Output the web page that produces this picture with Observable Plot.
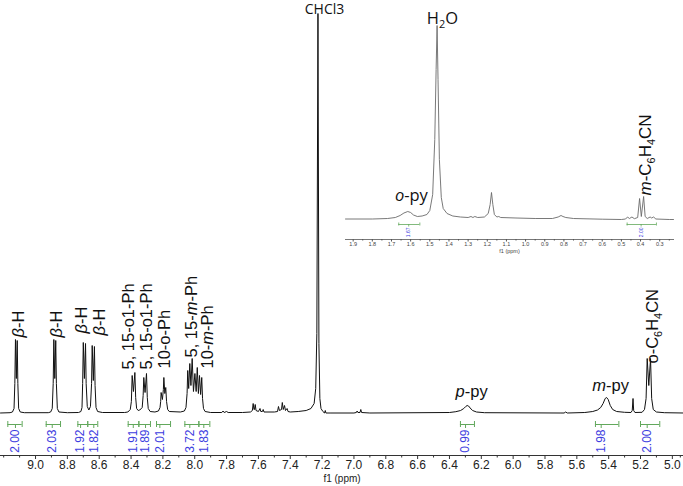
<!DOCTYPE html>
<html><head><meta charset="utf-8">
<script src="https://cdn.jsdelivr.net/npm/d3@7"></script>
<script src="https://cdn.jsdelivr.net/npm/@observablehq/plot@0.6"></script>
<style>
html,body{margin:0;padding:0;background:#fff;}
#wrap{position:relative;width:683px;height:486px;overflow:hidden;background:#fff;}
#inset{position:absolute;left:340px;top:0;}
svg{overflow:visible;background:transparent !important;}
</style></head><body><div id="wrap"><div id="main"></div><div id="inset"></div></div>
<script>
// ---- main spectrum trace (ppm, relative intensity) ----
const mainPpm = [9.22,9.16,9.145,9.135,9.13,9.126,9.1205,9.115,9.111,9.106,9.096,9.07,
 8.92,8.905,8.895,8.889,8.885,8.879,8.873,8.869,8.863,8.853,8.80,
 8.73,8.715,8.708,8.704,8.700,8.693,8.686,8.682,8.675,8.665,8.655,8.648,8.644,8.637,8.630,8.626,8.620,8.610,8.58,
 8.44,8.42,8.405,8.398,8.393,8.385,8.376,8.371,8.365,8.355,8.345,8.33,8.324,8.320,8.312,8.303,8.298,8.292,8.28,8.25,
 8.228,8.218,8.214,8.211,8.203,8.197,8.194,8.188,8.182,8.177,8.170,8.16,8.09,
 8.065,8.055,8.048,8.044,8.038,8.031,8.024,8.016,8.008,7.999,7.991,7.984,7.977,7.970,7.963,7.956,7.951,7.945,7.935,7.90,
 7.83,7.822,7.815,7.80,7.79,7.70,
 7.65,7.638,7.633,7.628,7.625,7.620,7.615,7.60,7.59,7.585,7.575,7.57,7.565,7.50,
 7.48,7.474,7.468,7.455,7.45,7.444,7.436,7.43,7.42,7.414,7.40,7.35,7.30,7.27,7.25,7.24,
 7.233,7.226,7.220,7.214,7.207,7.195,7.185,7.18,7.176,7.15,
 7.00,6.985,6.98,6.975,6.962,6.957,6.952,6.90,
 6.40,6.36,6.33,6.31,6.298,6.289,6.28,6.27,6.255,6.23,6.18,
 5.70,5.68,5.67,5.66,5.55,5.50,5.47,5.45,5.435,5.422,5.413,5.403,5.39,5.375,5.35,5.30,
 5.26,5.252,5.247,5.243,5.235,
 5.19,5.175,5.165,5.158,5.148,5.137,5.13,5.12,5.10,5.05,4.93];
const mainInt = [0.5,0.8,1.5,5,30,74,35,73,30,5,1.5,0.8,
 0.8,1.5,5,30,74,35,73,30,5,1.5,0.8,
 1,2,6,30,71,35,70,30,7,3.5,7,30,68,33,67,28,6,2,1,
 1,1.5,4,12,38,22,41,16,5,3,3.5,6,18,36,21,40,16,5,2,1.5,
 2.5,6,12,21,14,24,36,20,26,12,4,2,1.5,
 2.5,6,20,43,25,50,28,55,22,40,22,46,20,38,19,36,15,5,2,1,
 1,2.5,1,2,1,1,
 1.5,3,10,4,4,9,3,2,5,2,2,4,1.5,1.5,
 2,7,3,4,11,4,8,3,5,2,1.5,2,3,5,10,25,
 80,400,70,15,5,2,0.5,3,0.5,0.5,
 0.5,1,2.5,1,1,4,1,0.5,
 1,1.8,3,5,7,8,7.5,5.5,3,1.5,0.8,
 0.5,0.5,1.5,0.5,1,2,3.5,6,10,15,16,14,8,4,2,1.2,
 1,3,15,3,1,
 1.2,4,15,55,28,55,15,4,1.5,0.8,0.5];

// ---- inset trace ----
const insetPpm = [1.94,1.80,1.72,1.68,1.655,1.635,1.615,1.60,1.585,1.565,1.54,1.515,1.50,1.485,1.474,1.467,1.462,1.457,1.450,1.44,1.43,1.41,1.38,1.34,
 1.30,1.285,1.275,1.265,1.25,1.215,1.195,1.185,1.178,1.171,1.163,1.15,1.14,1.13,1.05,0.95,0.86,0.83,0.815,0.805,0.79,0.75,0.60,0.50,
 0.478,0.468,0.458,0.445,0.432,0.415,0.405,0.396,0.384,0.376,0.365,0.35,0.342,0.332,0.32,0.25,0.228];
const insetInt = [0.5,0.5,1,2,4,6.5,8,7,4.5,3,3.5,5,9,25,80,150,194,140,60,22,11,6,3.5,2.5,
 2,3,2,3,2,2.5,6,15,27,15,5,2.5,3,2,1.5,1,1,2.5,4,3,2,1,0.3,0,
 0.5,2.5,1,2.5,0.8,2,21,3,23,3,1,2.5,1.5,2.5,0.5,0,0];

// ---- axis ticks ----
const mainMajor = [9.0,8.8,8.6,8.4,8.2,8.0,7.8,7.6,7.4,7.2,7.0,6.8,6.6,6.4,6.2,6.0,5.8,5.6,5.4,5.2,5.0];
const mainMinor = [9.2,9.1,8.9,8.7,8.5,8.3,8.1,7.9,7.7,7.5,7.3,7.1,6.9,6.7,6.5,6.3,6.1,5.9,5.7,5.5,5.3,5.1,4.95];
const insetMajor = [1.9,1.8,1.7,1.6,1.5,1.4,1.3,1.2,1.1,1.0,0.9,0.8,0.7,0.6,0.5,0.4,0.3];
const insetMinor = [1.85,1.75,1.65,1.55,1.45,1.35,1.25,1.15,1.05,0.95,0.85,0.75,0.65,0.55,0.45,0.35,0.25];

// ---- integrals ----
const intFrom = [9.174,8.933,8.734,8.672,8.418,8.351,8.240,8.062,7.974,6.331,5.483,5.200];
const intTo   = [9.084,8.843,8.672,8.609,8.351,8.278,8.152,7.974,7.905,6.243,5.336,5.079];
const intMid  = [9.126,8.895,8.717,8.634,8.386,8.309,8.219,8.031,7.943,6.299,5.447,5.158];
const intVal  = ["2.00","2.03","1.92","1.82","1.91","1.89","2.01","3.72","1.83","0.99","1.98","2.00"];
const insIntFrom = [1.662,0.470];
const insIntTo   = [1.552,0.317];
const insIntMid  = [1.610,0.397];
const insIntVal  = ["1.67","2.00"];

// ---- peak labels ----
const vLabText = ["*β*-H","*β*-H","*β*-H","*β*-H","5, 15-o1-Ph","5, 15-o1-Ph","10-o-Ph","5, 15-*m*-Ph","10-*m*-Ph","o-C_6H_4CN"];
const vLabPpm  = [9.105,8.864,8.707,8.598,8.414,8.299,8.190,8.016,7.918,5.126];
const vLabInt  = [76,76,80,78,44,44,45,56,45,50];
const hLabText = ["*p*-py","*m*-py"];
const hLabPpm  = [6.261,5.388];
const hLabInt  = [17,23];
const solvText = ["CHCl3"];
const solvPpm  = [7.185];
const solvInt  = [400];
const insLabText = ["H_2O","*o*-py"];
const insLabPpm  = [1.434,1.596];
const insLabInt  = [196,19];
const insVText = ["*m*-C_6H_4CN"];
const insVPpm  = [0.374];
const insVInt  = [24];

const GREEN = "#62a85c", BLUE = "#3d3de0", INK = "#111";

function rich(svg){
  svg.querySelectorAll("text").forEach(t => {
    const s = t.textContent;
    if (!/[*_]/.test(s)) return;
    const fs = parseFloat(getComputedStyle(t).fontSize) || 16;
    while (t.firstChild) t.removeChild(t.firstChild);
    let italic = false, i = 0, shifted = false;
    const NS = "http://www.w3.org/2000/svg";
    let buf = "";
    const flush = () => {
      if (!buf) return;
      const ts = document.createElementNS(NS, "tspan");
      ts.textContent = buf;
      if (italic) ts.setAttribute("font-style", "italic");
      if (shifted) { ts.setAttribute("dy", (-0.28*fs).toFixed(2)); shifted = false; }
      t.appendChild(ts); buf = "";
    };
    while (i < s.length) {
      const c = s[i];
      if (c === "*") { flush(); italic = !italic; i++; continue; }
      if (c === "_") {
        flush();
        const ts = document.createElementNS(NS, "tspan");
        ts.textContent = s[i+1];
        ts.setAttribute("font-size", (fs*0.68).toFixed(2));
        ts.setAttribute("dy", (0.28*fs).toFixed(2));
        t.appendChild(ts); shifted = true; i += 2; continue;
      }
      buf += c; i++;
    }
    flush();
  });
}

const main = Plot.plot({
  width: 683, height: 486,
  marginLeft: 0, marginRight: 0, marginTop: 0, marginBottom: 31,
  x: {domain: [9.22, 4.93], range: [0, 683]},
  y: {domain: [0, 400], range: [413, 13], axis: null},
  style: {fontFamily: "'Liberation Sans', Arial, sans-serif", fontSize: "12px", color: "#222", background: "transparent"},
  marks: [
    Plot.frame({anchor: "bottom", stroke: "#333"}),
    Plot.axisX({ticks: mainMajor, tickFormat: d => d.toFixed(1), tickSize: 4, tickPadding: 1, fontSize: 12, label: null, stroke: "#333", fill: "#222"}),
    Plot.axisX({ticks: mainMinor, tickFormat: () => "", tickSize: 2.5, label: null, stroke: "#333"}),
    Plot.text(["f1 (ppm)"], {frameAnchor: "bottom", dy: 26, text: d => d, fontSize: 10, fill: "#222"}),
    Plot.line(mainPpm, {x: mainPpm, y: mainInt, stroke: INK, strokeWidth: 1, curve: "linear"}),
    // integrals
    Plot.ruleY(intFrom, {x1: intFrom, x2: intTo, y: -11, stroke: GREEN, strokeWidth: 1}),
    Plot.ruleX(intFrom, {x: intFrom, y1: -8, y2: -14, stroke: GREEN}),
    Plot.ruleX(intTo, {x: intTo, y1: -8, y2: -14, stroke: GREEN}),
    Plot.ruleX(intMid, {x: intMid, y1: -11, y2: -15, stroke: GREEN}),
    Plot.text(intVal, {x: intMid, y: -16, text: intVal, rotate: -90, textAnchor: "end", fill: BLUE, fontSize: 12}),
    // labels
    Plot.text(vLabText, {x: vLabPpm, y: vLabInt, text: vLabText, rotate: -90, textAnchor: "start", fontSize: 16.5, fill: INK}),
    Plot.text(hLabText, {x: hLabPpm, y: hLabInt, text: hLabText, lineAnchor: "bottom", fontSize: 16.5, fill: INK}),
    Plot.text(solvText, {x: solvPpm, y: solvInt, text: solvText, lineAnchor: "bottom", fontSize: 14, fontFamily: "Open Sans", fill: INK})
  ]
});
rich(main);
document.getElementById("main").appendChild(main);

const inset = Plot.plot({
  width: 343, height: 260,
  marginLeft: 5, marginRight: 10, marginTop: 0, marginBottom: 21,
  x: {domain: [1.94, 0.228]},
  y: {domain: [0, 194], range: [219, 25], axis: null},
  style: {fontFamily: "'Liberation Sans', Arial, sans-serif", fontSize: "6px", color: "#444", background: "transparent"},
  marks: [
    Plot.frame({anchor: "bottom", stroke: "#555", strokeWidth: 0.8}),
    Plot.axisX({ticks: insetMajor, tickFormat: d => d.toFixed(1), tickSize: 2.5, tickPadding: 0.5, fontSize: 5.5, label: null, stroke: "#555", fill: "#444"}),
    Plot.axisX({ticks: insetMinor, tickFormat: () => "", tickSize: 1.5, label: null, stroke: "#555"}),
    Plot.text(["f1 (ppm)"], {frameAnchor: "bottom", dy: 13.5, text: d => d, fontSize: 5.5, fill: "#444"}),
    Plot.line(insetPpm, {x: insetPpm, y: insetInt, stroke: "#6a6a6a", strokeWidth: 0.9}),
    Plot.ruleY(insIntFrom, {x1: insIntFrom, x2: insIntTo, y: -5, stroke: GREEN, strokeWidth: 0.8}),
    Plot.ruleX(insIntFrom, {x: insIntFrom, y1: -3.5, y2: -6.5, stroke: GREEN, strokeWidth: 0.8}),
    Plot.ruleX(insIntTo, {x: insIntTo, y1: -3.5, y2: -6.5, stroke: GREEN, strokeWidth: 0.8}),
    Plot.ruleX(insIntMid, {x: insIntMid, y1: -5, y2: -7.5, stroke: GREEN, strokeWidth: 0.8}),
    Plot.text(insIntVal, {x: insIntMid, y: -8, text: insIntVal, rotate: -90, textAnchor: "end", fill: BLUE, fontSize: 5}),
    Plot.text(insLabText, {x: insLabPpm, y: insLabInt, text: insLabText, lineAnchor: "bottom", fontSize: 16.5, fontFamily: "Open Sans", fill: INK}),
    Plot.text(insVText, {x: insVPpm, y: insVInt, text: insVText, rotate: -90, textAnchor: "start", fontSize: 17, fill: INK})
  ]
});
rich(inset);
document.getElementById("inset").appendChild(inset);
</script></body></html>
